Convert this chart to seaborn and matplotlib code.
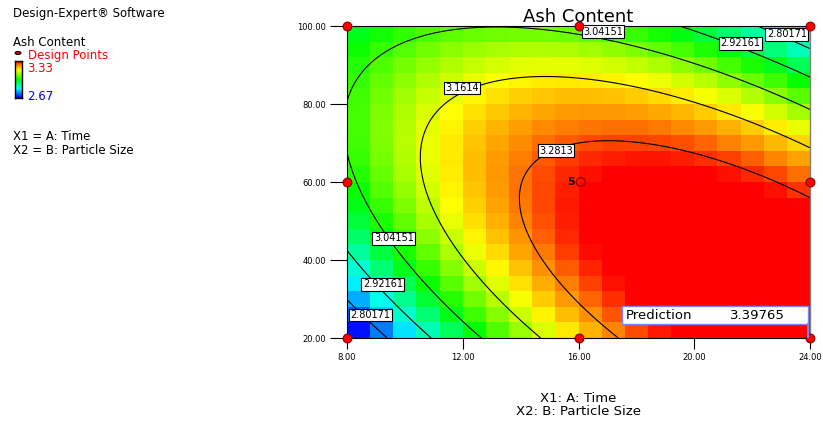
import numpy as np
import seaborn as sns
import matplotlib.pyplot as plt
from matplotlib.colors import LinearSegmentedColormap
from matplotlib.patches import Rectangle

# quadratic model in coded units (A: Time, B: Particle Size)
coef_terms = ["Intercept", "A", "B", "AB", "A^2", "B^2"]
coef_values = [3.320, 0.113, -0.105, -0.246, -0.185, -0.200]
time_range = [8.0, 24.0]
size_range = [20.0, 100.0]
color_low = 2.67
color_high = 3.33
contour_levels = [2.80171, 2.92161, 3.04151, 3.1614, 3.2813]
design_time = [8, 16, 24, 8, 24, 8, 16, 24]
design_size = [100, 100, 100, 60, 60, 20, 20, 20]
center_time = 16
center_size = 60
center_runs = 5
prediction = 3.39765
time_ticks = [8, 12, 16, 20, 24]
size_ticks = [20, 40, 60, 80, 100]
n_cells = 20

# contour label anchors (Time, Particle Size)
label_time = [16.85, 21.6, 23.2, 11.97, 15.22, 9.62, 9.24, 8.8]
label_size = [98.5, 95.6, 97.9, 84.1, 68.0, 45.6, 33.8, 25.9]
label_text = ["3.04151", "2.92161", "2.80171", "3.1614", "3.2813",
              "3.04151", "2.92161", "2.80171"]


def model(a, b):
    c = coef_values
    return c[0] + c[1] * a + c[2] * b + c[3] * a * b + c[4] * a * a + c[5] * b * b


def coded(v, rng):
    return (v - rng[0]) / (rng[1] - rng[0]) * 2 - 1


def tx(t):
    return (np.asarray(t) - time_range[0]) / (time_range[1] - time_range[0]) * n_cells


def ty(s):
    return (np.asarray(s) - size_range[0]) / (size_range[1] - size_range[0]) * n_cells


# each cell is coloured by the value at its lower-left grid node
nodes = -1 + np.arange(n_cells) * 2 / n_cells
ga, gb = np.meshgrid(nodes, nodes)
cells = model(ga, gb)

de_cmap = LinearSegmentedColormap.from_list(
    "de", [(0.0, "#0000ff"), (0.25, "#00ffff"), (0.5, "#00ff00"),
           (0.76, "#ffff00"), (0.9, "#ff8000"), (1.0, "#ff0000")])

fig = plt.figure(figsize=(8.23, 4.23), dpi=100)
ax = fig.add_axes([347 / 823, 1 - 338 / 423, 463 / 823, 312 / 423])
sns.heatmap(cells, cmap=de_cmap, vmin=color_low, vmax=color_high, cbar=False,
            ax=ax, xticklabels=False, yticklabels=False)
ax.set_ylim(0, n_cells)
ax.set_xlim(0, n_cells)

ft = np.linspace(time_range[0], time_range[1], 300)
fs = np.linspace(size_range[0], size_range[1], 300)
FT, FS = np.meshgrid(ft, fs)
fz = model(coded(FT, time_range), coded(FS, size_range))
ax.contour(tx(FT), ty(FS), fz, levels=contour_levels, colors="black", linewidths=0.8)

for t, s, lab in zip(label_time, label_size, label_text):
    ax.text(tx(t), ty(s), lab, fontsize=7, ha="center", va="center", zorder=5,
            bbox=dict(boxstyle="square,pad=0.15", fc="white", ec="black", lw=0.8))

ax.scatter(tx(design_time), ty(design_size), s=40, c="red", edgecolors="#800000",
           linewidths=0.8, zorder=6, clip_on=False)
ax.scatter(tx(center_time) + 0.1, ty(center_size), s=40, facecolors="none",
           edgecolors="#a00000", linewidths=1.0, zorder=6)
ax.text(tx(center_time) - 0.15, ty(center_size), str(center_runs), fontsize=8,
        fontweight="bold", ha="right", va="center", zorder=6)

# prediction flag
ax.add_patch(Rectangle((11.88, 0.9), 8.03, 1.15, fc="white", ec="#8080ff",
                       lw=1.0, zorder=7))
ax.plot([19.91, 19.91], [0.0, 0.9], color="#8080ff", lw=1.5, zorder=7)
ax.text(12.05, 1.47, "Prediction", fontsize=9.5, va="center", zorder=8)
ax.text(16.55, 1.47, f"{prediction:.5f}", fontsize=9.5, va="center", zorder=8)

ax.set_xticks(tx(time_ticks))
ax.set_xticklabels([f"{v:.2f}" for v in time_ticks], fontsize=6)
ax.set_yticks(ty(size_ticks))
ax.set_yticklabels([f"{v:.2f}" for v in size_ticks], fontsize=6)
ax.tick_params(axis="x", length=8, width=0.8, pad=3)
ax.tick_params(axis="y", length=12, width=0.8, pad=3)
for side in ["left", "bottom", "top"]:
    ax.spines[side].set_visible(True)
    ax.spines[side].set_color("black")
    ax.spines[side].set_linewidth(0.8)
ax.spines["right"].set_visible(True)
ax.spines["right"].set_color("#808080")
ax.spines["right"].set_linewidth(1.0)

ax.set_title("Ash Content", fontsize=13, pad=2)
fig.text(578 / 823, 1 - 398 / 423, "X1: A: Time", fontsize=9.5, ha="center", va="center")
fig.text(578 / 823, 1 - 411 / 423, "X2: B: Particle Size", fontsize=9.5, ha="center", va="center")

# left legend block
fs_left = 8.5
fig.text(13 / 823, 1 - 14 / 423, "Design-Expert\u00ae Software", fontsize=fs_left, va="center")
fig.text(13 / 823, 1 - 42 / 423, "Ash Content", fontsize=fs_left, va="center")
fig.text(28 / 823, 1 - 56 / 423, "Design Points", fontsize=fs_left, color="red", va="center")
fig.text(27 / 823, 1 - 69 / 423, f"{color_high:.2f}", fontsize=fs_left, color="red", va="center")
fig.text(27 / 823, 1 - 97 / 423, f"{color_low:.2f}", fontsize=fs_left, color="blue", va="center")
fig.patches.append(plt.Circle((18 / 823, 1 - 53 / 423), 0.0035, transform=fig.transFigure,
                              fc="red", ec="black", lw=0.8, figure=fig))
cax = fig.add_axes([15 / 823, 1 - 98 / 423, 7 / 823, 37 / 423])
cax.imshow(np.linspace(1, 0, 50).reshape(-1, 1), cmap=de_cmap, aspect="auto")
cax.set_xticks([])
cax.set_yticks([])
for sp in cax.spines.values():
    sp.set_linewidth(1.0)
fig.text(13 / 823, 1 - 137 / 423, "X1 = A: Time", fontsize=fs_left, va="center")
fig.text(13 / 823, 1 - 150 / 423, "X2 = B: Particle Size", fontsize=fs_left, va="center")

plt.savefig("out.png", dpi=100)
